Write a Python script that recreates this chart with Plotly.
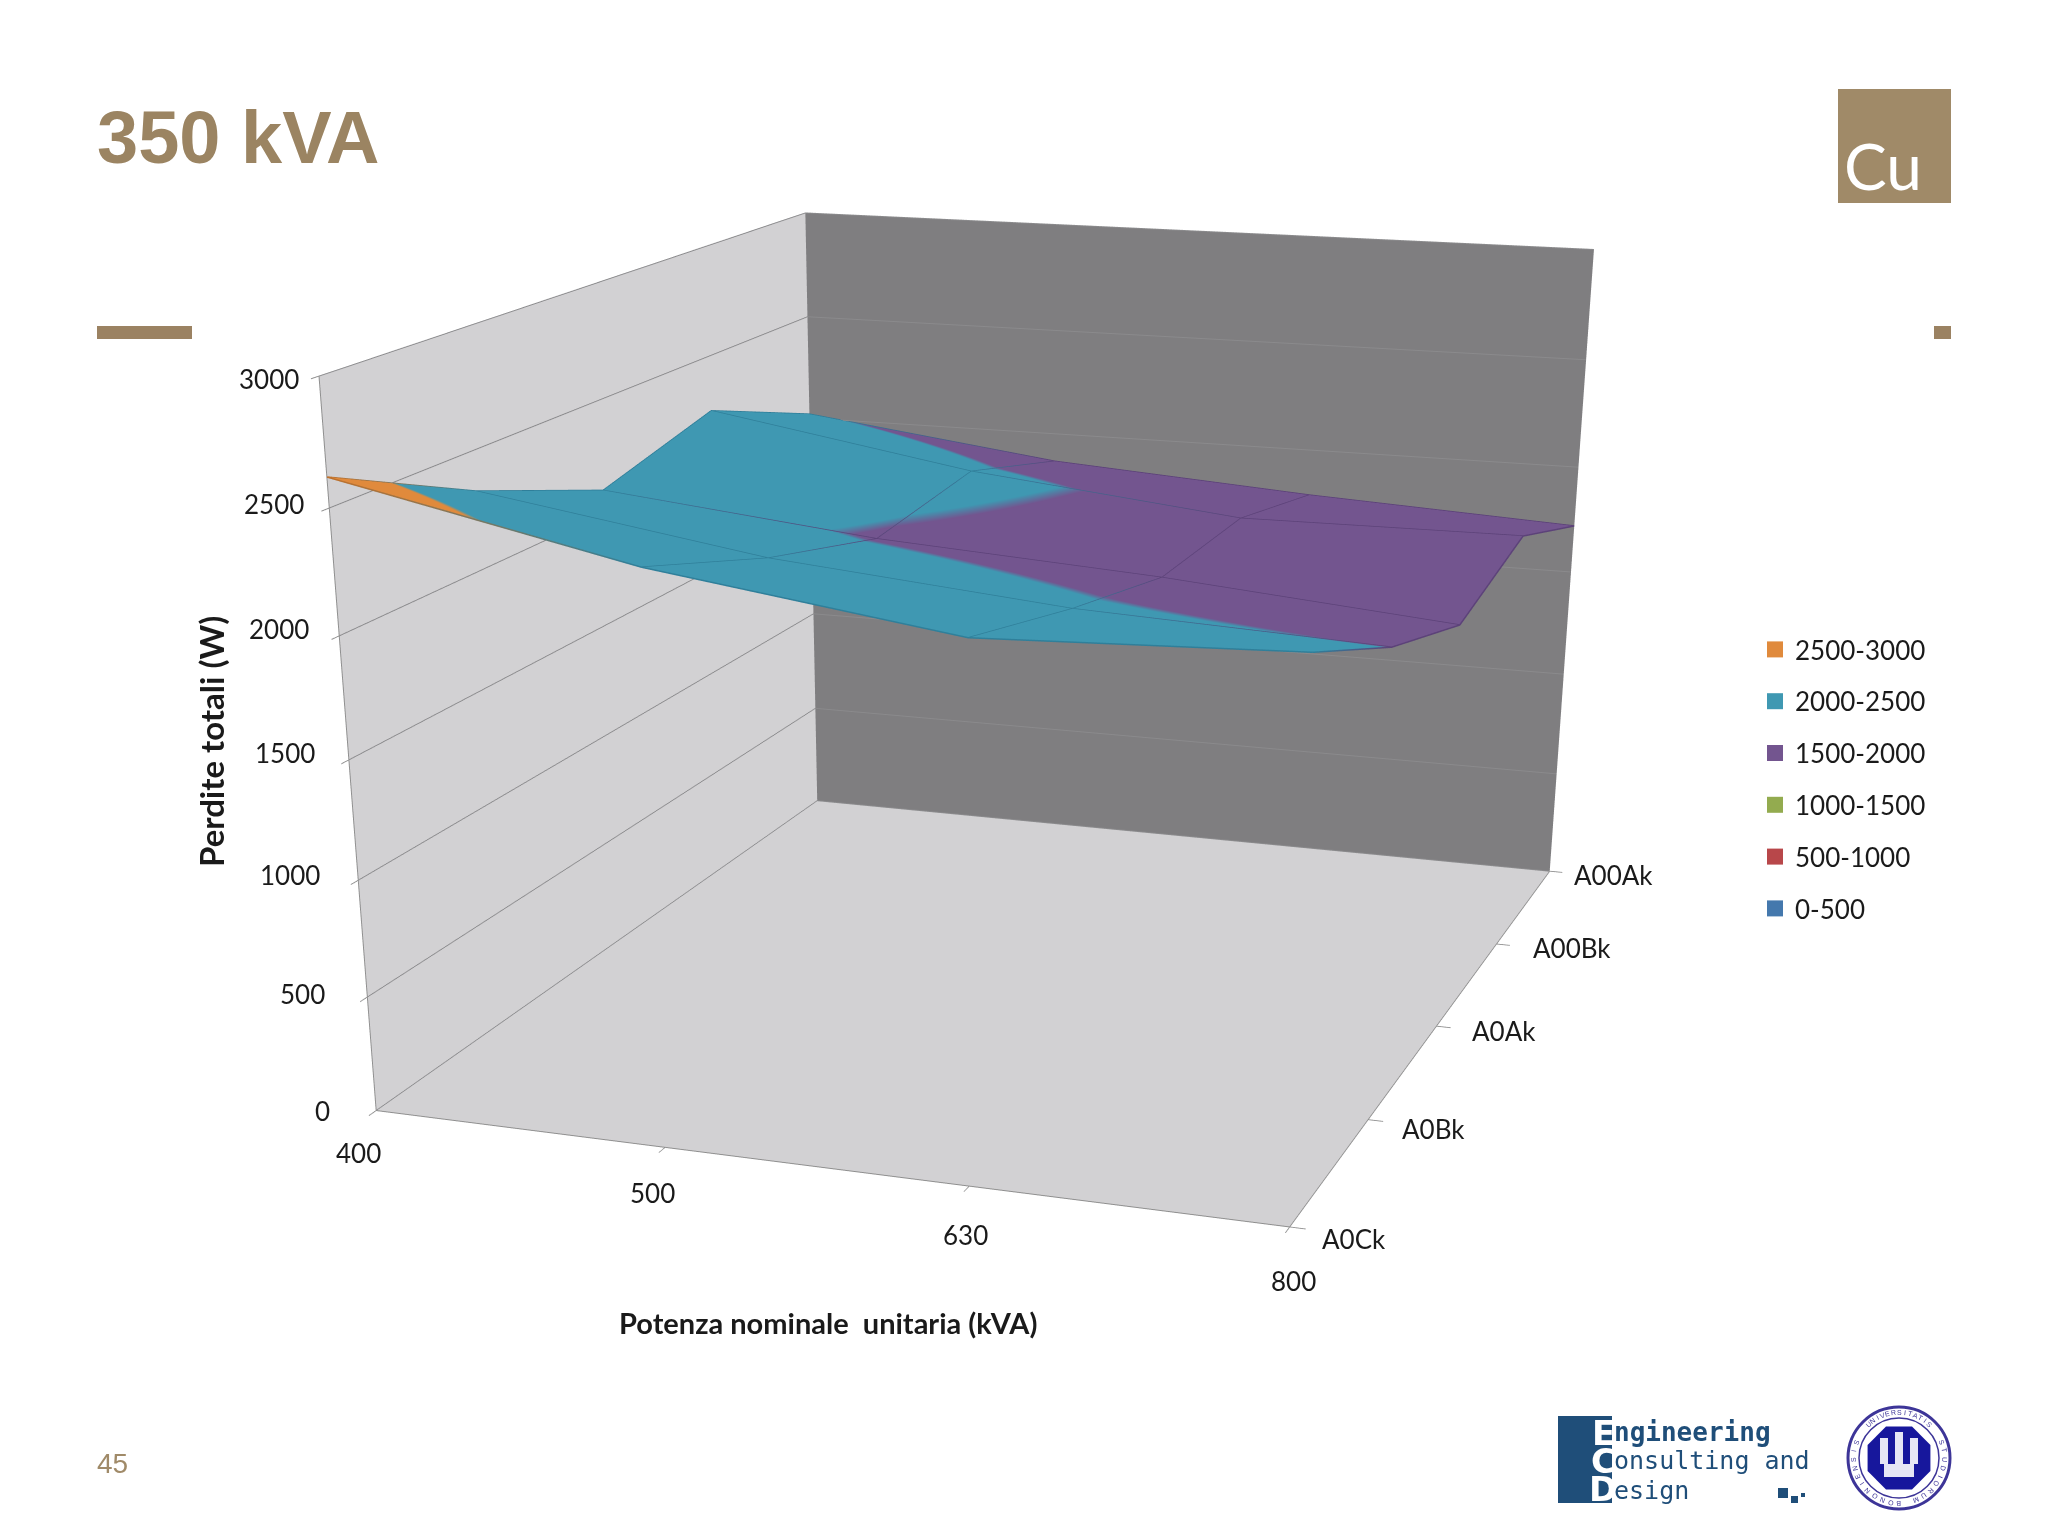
import math
import plotly.graph_objects as go

kva = ["400", "500", "630", "800"]
rows = ["A0Ck", "A0Bk", "A0Ak", "A00Bk", "A00Ak"]
A0Ck = [2619, 2364, 2196, 2245]
A0Bk = [2332, 2144, 2034, 1981]
A0Ak = [2102, 1975, 1899, 1793]
A00Bk = [2245, 2042, 1911, 1920]
A00Ak = [2020, 1865, 1783, 1721]
z_ticks = [0, 500, 1000, 1500, 2000, 2500, 3000]
bands = ["2500-3000", "2000-2500", "1500-2000", "1000-1500", "500-1000", "0-500"]
band_colors = ["#e08a3c", "#3f98b2", "#73558f", "#93ab4f", "#b8474a", "#4478ad"]
edge_colors = ["#c0702a", "#2f7f9a", "#5c4279", "#93ab4f", "#b8474a", "#4478ad"]

BODY = 8          # page margin of the browser
W, HF = 2040, 3072  # tall page: only its top is in the window; gives the long lens of the original
X = lambda px: (px - BODY) / W
Y = lambda py: 1 - (py - BODY) / HF
GOLD = "#a08a68"
INK = "#1a1a1a"
NAVY = "#1f4e79"
SEAL = "#3d3598"


def stepped(c):
    return [[0, c[5]], [1/6, c[5]], [1/6, c[4]], [2/6, c[4]], [2/6, c[3]], [3/6, c[3]],
            [3/6, c[2]], [4/6, c[2]], [4/6, c[1]], [5/6, c[1]], [5/6, c[0]], [1, c[0]]]


fig = go.Figure()
zz = [A0Ck, A0Bk, A0Ak, A00Bk, A00Ak]
xi = list(range(len(kva)))
yi = list(range(len(rows)))
fig.add_trace(go.Surface(x=xi, y=yi, z=zz, cmin=0, cmax=3000, colorscale=stepped(band_colors),
                         showscale=False, showlegend=False,
                         lighting=dict(ambient=1, diffuse=0, specular=0, roughness=1, fresnel=0)))
edge = dict(width=3, cmin=0, cmax=3000, colorscale=stepped(edge_colors))
for j, r in enumerate(zz):
    fig.add_trace(go.Scatter3d(x=xi, y=[j] * len(xi), z=r, mode="lines", showlegend=False, hoverinfo="skip",
                               line=dict(edge, color=r)))
for i in xi:
    col = [r[i] for r in zz]
    fig.add_trace(go.Scatter3d(x=[i] * len(yi), y=yi, z=col, mode="lines", showlegend=False, hoverinfo="skip",
                               line=dict(edge, color=col)))
for b, col in zip(bands, band_colors):
    fig.add_trace(go.Scatter3d(x=[None], y=[None], z=[None], mode="markers", name=b, legendgroup=b,
                               marker=dict(symbol="square", size=18, color=col)))

ax = dict(showspikes=False, zeroline=False, showline=True, linecolor="#8f8f8f", linewidth=2,
          ticks="outside", ticklen=12, tickcolor="#8f8f8f", tickwidth=2, title=dict(text=""),
          showticklabels=False, showbackground=True)
lab = dict(family="Lato", size=26, color=INK)
ann = []
z_off = [(-44, 0), (-40, 3), (-36, 5), (-32, 7), (-28, 7), (-23, 4), (-18, -3)]
for t, (sx, sy) in zip(z_ticks, z_off):
    ann.append(dict(x=0, y=0, z=t, text=str(t), showarrow=False, xanchor="right", yanchor="middle",
                    xshift=sx, yshift=sy, font=lab))
x_off = [(-18, -42), (-13, -46), (-4, -49), (4, -54)]
for i, (t, (sx, sy)) in enumerate(zip(kva, x_off)):
    ann.append(dict(x=i, y=0, z=0, text=t, showarrow=False, xanchor="center", yanchor="middle",
                    xshift=sx, yshift=sy, font=lab))
y_off = [(30, -12), (32, -9), (34, -5), (35, -4), (22, -4)]
for j, (t, (sx, sy)) in enumerate(zip(rows, y_off)):
    ann.append(dict(x=3, y=j, z=0, text=t, showarrow=False, xanchor="left", yanchor="middle",
                    xshift=sx, yshift=sy, font=lab))

cx = 980.4 - BODY
fig.update_layout(
    width=W, height=HF, margin=dict(l=0, r=0, t=0, b=0), paper_bgcolor="white",
    scene=dict(domain=dict(x=[0, 2 * cx / W], y=[0, 1]),
               camera=dict(eye=dict(x=1.731, y=-5.130, z=1.288), center=dict(x=0.511, y=-1.630, z=-0.587),
                           up=dict(x=-0.001, y=-0.002, z=1)),
               aspectmode="manual", aspectratio=dict(x=1.303, y=1.664, z=0.981),
               xaxis=dict(ax, range=[0, 3], tickvals=xi, ticktext=kva, showgrid=False, backgroundcolor="#d2d1d3"),
               yaxis=dict(ax, range=[0, 4], tickvals=yi, ticktext=rows, showgrid=False, backgroundcolor="#7f7e80"),
               zaxis=dict(ax, range=[0, 3000], tickvals=z_ticks, showgrid=True, gridcolor="#8a8a8c", gridwidth=2,
                          backgroundcolor="#d2d1d3"),
               annotations=ann),
    legend=dict(x=X(1755), y=Y(626), xanchor="left", yanchor="top", tracegroupgap=15,
                bgcolor="rgba(0,0,0,0)", font=dict(family="Lato", size=26, color=INK)))


def note(px, py, t, anchor="center", **k):
    fig.add_annotation(x=X(px), y=Y(py), xref="paper", yref="paper", text=t, showarrow=False,
                       xanchor=anchor, yanchor="middle", **k)


def box(x0, y0, x1, y1, color):
    fig.add_shape(type="rect", xref="paper", yref="paper", x0=X(x0), x1=X(x1), y0=Y(y0), y1=Y(y1),
                  fillcolor=color, line_width=0)


def ring(cx_, cy_, r, color, width, fill="rgba(0,0,0,0)"):
    fig.add_shape(type="circle", xref="paper", yref="paper", x0=X(cx_ - r), x1=X(cx_ + r), y0=Y(cy_ - r), y1=Y(cy_ + r),
                  line=dict(color=color, width=width), fillcolor=fill)


# slide furniture
note(238, 137, "<b>350 kVA</b>", font=dict(family="Liberation Sans", size=74, color="#9b8462"))
box(1838, 89, 1951, 203, GOLD)
note(1883, 165, "Cu", font=dict(family="Lato", size=64, color="white"))
box(97, 326, 192, 339, "#9b8262")
box(1934, 326, 1951, 339, "#9b8262")
note(112, 1463, "45", font=dict(family="Liberation Sans", size=28, color=GOLD))
note(211, 742, "<b>Perdite totali (W)</b>", textangle=-90, font=dict(family="Lato", size=33, color=INK))
note(828, 1323, "<b>Potenza nominale  unitaria (kVA)</b>", font=dict(family="Lato", size=29, color=INK))

# ECD logo
box(1558, 1416, 1612, 1503, NAVY)
for ch, yy in zip("ECD", [1433, 1461, 1489]):
    note(1603, yy, f"<b>{ch}</b>", font=dict(family="DejaVu Sans", size=34, color="white"))
note(1612, 1432, "<b>ngineering</b>", anchor="left", font=dict(family="DejaVu Sans Mono", size=26, color=NAVY))
note(1612, 1460, "onsulting and", anchor="left", font=dict(family="DejaVu Sans Mono", size=25, color=NAVY))
note(1612, 1490, "esign", anchor="left", font=dict(family="DejaVu Sans Mono", size=25, color=NAVY))
box(1778, 1488, 1788, 1498, NAVY)
box(1791, 1496, 1798, 1503, NAVY)
box(1801, 1493, 1805, 1497, NAVY)

# University seal
SC = (1899, 1458)
ring(*SC, 51, SEAL, 3, "white")
ring(*SC, 40, SEAL, 1.5)
octo = [(SC[0] + 34 * math.cos(math.radians(22.5 + 45 * k)), SC[1] + 34 * math.sin(math.radians(22.5 + 45 * k))) for k in range(8)]
fig.add_shape(type="path", xref="paper", yref="paper", fillcolor="#17179c", line_width=0,
              path="M " + " L ".join(f"{X(a):.5f},{Y(b):.5f}" for a, b in octo) + " Z")
for a, b, c, d in [(1880, 1438, 1888, 1464), (1895, 1432, 1903, 1464), (1910, 1438, 1918, 1464), (1884, 1464, 1914, 1477)]:
    box(a, b, c, d, "#e6e6f5")


def arc(text, a0, step):
    for k, ch in enumerate(text):
        if ch == " ":
            continue
        th = a0 + k * step
        note(SC[0] + 45.5 * math.sin(math.radians(th)), SC[1] - 45.5 * math.cos(math.radians(th)), ch,
             textangle=th, font=dict(family="Liberation Sans", size=7, color=SEAL))


arc("UNIVERSITATIS", -42, 7)
arc("STUDIORUM BONONIENSIS", 70, 11)

fig.write_html("out.html")
